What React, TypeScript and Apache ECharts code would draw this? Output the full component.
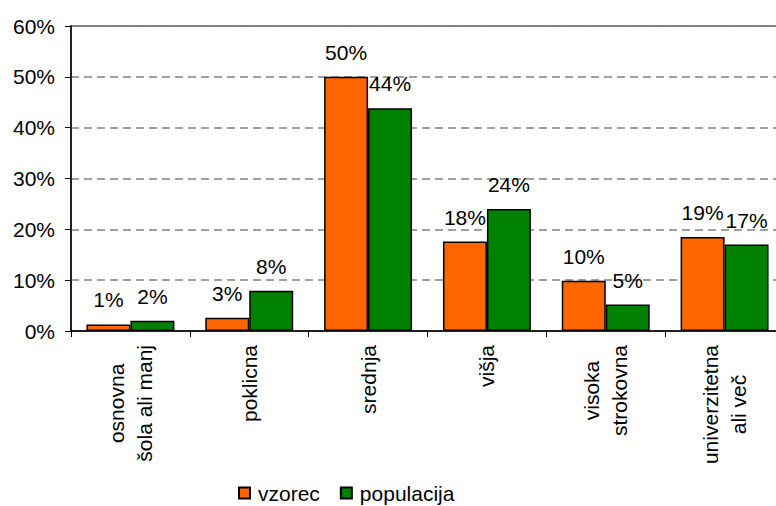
import React, { useEffect, useRef } from "react";
import * as echarts from "echarts";

const categories = [
  "osnovna\nšola ali manj",
  "poklicna",
  "srednja",
  "višja",
  "visoka\nstrokovna",
  "univerzitetna\nali več",
];
const seriesNames = ["vzorec", "populacija"];
const vzorec = [1.3, 2.6, 50.0, 17.6, 9.9, 18.5];
const populacija = [2.0, 7.9, 43.8, 24.0, 5.2, 17.0];
const yTicks = [0, 10, 20, 30, 40, 50, 60];

const FONT = "'Liberation Sans', Arial, sans-serif";
const FS = 21;

export default function App() {
  const ref = useRef<HTMLDivElement>(null);
  useEffect(() => {
    if (!ref.current) return;
    const chart = echarts.init(ref.current, null, { renderer: "svg" });
    const labelCfg = {
      show: true,
      position: "top",
      distance: 14,
      color: "#000",
      fontSize: FS,
      fontFamily: FONT,
      formatter: (p: any) => Math.round(p.value) + "%",
    };
    chart.setOption({
      animation: false,
      textStyle: { fontFamily: FONT },
      grid: {
        left: 71,
        top: 26,
        width: 713,
        height: 305,
        containLabel: false,
        outerBoundsMode: "none",
        show: true,
        borderColor: "#888888",
        borderWidth: 2,
        backgroundColor: "transparent",
      },
      legend: {
        left: 238,
        top: 482,
        padding: 0,
        itemWidth: 11,
        itemHeight: 11,
        itemGap: 20,
        icon: "rect",
        data: seriesNames,
        textStyle: { fontSize: FS, lineHeight: 22, color: "#000", fontFamily: FONT, padding: [0, 0, 0, 3] },
      },
      xAxis: {
        type: "category",
        data: categories,
        axisLine: { show: true, lineStyle: { color: "#000", width: 1.5 } },
        axisTick: { show: true, alignWithLabel: false, length: 6, inside: false, lineStyle: { color: "#000" } },
        axisLabel: {
          rotate: 90,
          margin: 14,
          interval: 0,
          color: "#000",
          fontSize: FS,
          fontFamily: FONT,
          formatter: (v: string) =>
            v
              .split("\n")
              .map((s) => "{c|" + s + "}")
              .join("\n"),
          rich: {
            c: { align: "center", fontSize: FS, lineHeight: 28, fontFamily: FONT, color: "#000" },
          },
        },
      },
      yAxis: {
        type: "value",
        min: yTicks[0],
        max: yTicks[yTicks.length - 1],
        interval: 10,
        axisLine: { show: true, lineStyle: { color: "#000", width: 1.5 } },
        axisTick: { show: true, length: 6, lineStyle: { color: "#000" } },
        axisLabel: {
          margin: 16,
          color: "#000",
          fontSize: FS,
          fontFamily: FONT,
          formatter: "{value}%",
        },
        splitLine: {
          show: true,
          lineStyle: { color: "#808080", type: [8, 5], width: 1.5 },
        },
      },
      series: [
        {
          name: seriesNames[0],
          type: "bar",
          data: vzorec,
          barGap: "0%",
          barCategoryGap: "26%",
          itemStyle: { color: "#FF6600", borderColor: "#000", borderWidth: 1.5 },
          label: labelCfg,
        },
        {
          name: seriesNames[1],
          type: "bar",
          data: populacija,
          barGap: "0%",
          barCategoryGap: "26%",
          itemStyle: { color: "#008000", borderColor: "#000", borderWidth: 1.5 },
          label: labelCfg,
        },
      ],
    });
    return () => chart.dispose();
  }, []);
  return <div ref={ref} style={{ width: 776, height: 506, position: "absolute", left: 0, top: 0 }} />;
}
